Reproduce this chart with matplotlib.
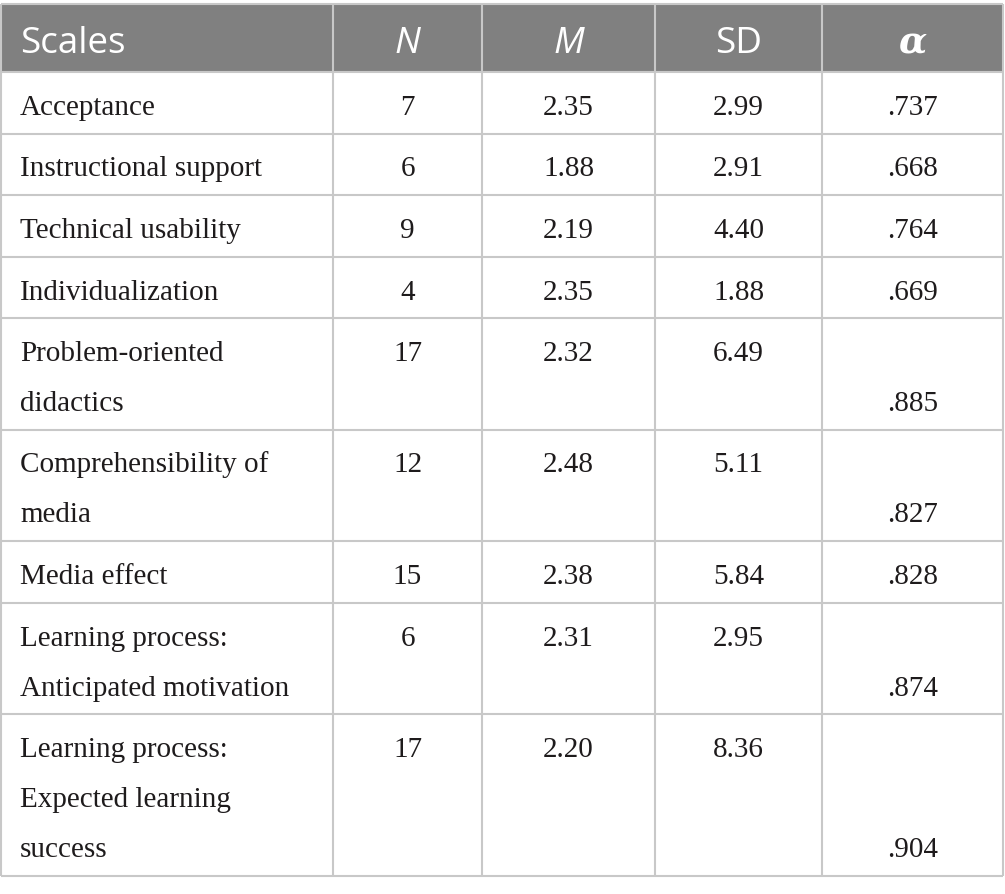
import matplotlib.pyplot as plt
from matplotlib.patches import Rectangle

# table content
headers = ['Scales', 'N', 'M', 'SD', 'α']
scales = ['Acceptance', 'Instructional support', 'Technical usability',
          'Individualization', 'Problem-oriented\ndidactics',
          'Comprehensibility of\nmedia', 'Media effect',
          'Learning process:\nAnticipated motivation',
          'Learning process:\nExpected learning\nsuccess']
n_items = ['7', '6', '9', '4', '17', '12', '15', '6', '17']
means = ['2.35', '1.88', '2.19', '2.35', '2.32', '2.48', '2.38', '2.31', '2.20']
sds = ['2.99', '2.91', '4.40', '1.88', '6.49', '5.11', '5.84', '2.95', '8.36']
alphas = ['.737', '.668', '.764', '.669', '.885', '.827', '.828', '.874', '.904']

# layout (pixels)
W, H = 1005, 894
col_edges = [1, 333, 482, 655, 822, 1003]
top = 4
header_h = 68
line_h = 50
pad = 11.5
grid_color = '#c8c8c8'
text_color = '#1e1b1c'
header_bg = '#808080'
body_fs = 21
head_fs = 26.5

fig = plt.figure(figsize=(W / 100, H / 100), dpi=100)
ax = fig.add_axes([0, 0, 1, 1])
ax.set_xlim(0, W)
ax.set_ylim(H, 0)
ax.axis('off')

# header
ax.add_patch(Rectangle((col_edges[0], top), col_edges[-1] - col_edges[0], header_h,
                       facecolor=header_bg, edgecolor='none', zorder=0))
hstyles = ['normal', 'italic', 'italic', 'normal', 'italic']
for j, h in enumerate(headers):
    if j == 0:
        x, ha = 20, 'left'
    else:
        x, ha = (col_edges[j] + col_edges[j + 1]) / 2, 'center'
    fam = ['DejaVu Serif'] if h == 'α' else ['Open Sans']
    ax.text(x, top + 49, h, color='white', fontsize=head_fs, ha=ha, va='baseline',
            family=fam, style=hstyles[j],
            weight='bold' if h == 'α' else 'normal')

# body rows
y = top + header_h
row_lines = [top, y]
for i, label in enumerate(scales):
    nlines = label.count('\n') + 1
    rh = pad + line_h * nlines
    for k, part in enumerate(label.split('\n')):
        ax.text(20, y + 43 + line_h * k, part, color=text_color, fontsize=body_fs,
                family='Liberation Serif', ha='left', va='baseline')
    vals = [n_items[i], means[i], sds[i]]
    for j, v in enumerate(vals, start=1):
        ax.text((col_edges[j] + col_edges[j + 1]) / 2, y + 43, v, color=text_color,
                fontsize=body_fs, family='Liberation Serif', ha='center', va='baseline')
    ax.text((col_edges[4] + col_edges[5]) / 2, y + 43 + line_h * (nlines - 1), alphas[i],
            color=text_color, fontsize=body_fs, family='Liberation Serif',
            ha='center', va='baseline')
    y += rh
    row_lines.append(y)

ax.hlines(row_lines, col_edges[0], col_edges[-1], colors=grid_color, linewidth=1.5, zorder=2)
ax.vlines(col_edges, top, row_lines[-1], colors=grid_color, linewidth=1.5, zorder=2)

fig.savefig('out.png', dpi=100, facecolor='white')
